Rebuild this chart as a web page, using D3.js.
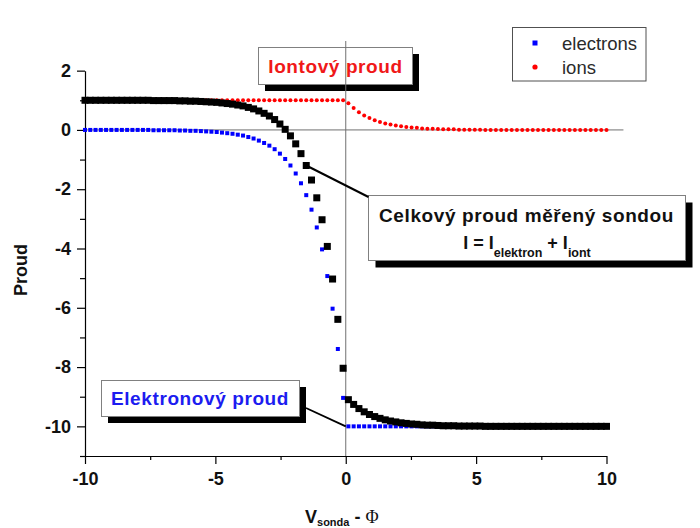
<!DOCTYPE html>
<html>
<head>
<meta charset="utf-8">
<script src="https://cdn.jsdelivr.net/npm/d3@7"></script>
<style>
  html, body { margin: 0; padding: 0; background: #fff; }
  svg { display: block; font-family: "Liberation Sans", Arial, Helvetica, sans-serif; }
</style>
</head>
<body>
<svg id="chart" width="700" height="528"></svg>
<script>
// Probe voltage relative to plasma potential (V_sonda - Φ)
const probeV = [
  -10, -9.798, -9.596, -9.394, -9.192, -8.990, -8.788, -8.586, -8.384, -8.182,
  -7.980, -7.778, -7.576, -7.374, -7.172, -6.970, -6.768, -6.566, -6.364, -6.162,
  -5.960, -5.758, -5.556, -5.354, -5.152, -4.949, -4.747, -4.545, -4.343, -4.141,
  -3.939, -3.737, -3.535, -3.333, -3.131, -2.929, -2.727, -2.525, -2.323, -2.121,
  -1.919, -1.717, -1.515, -1.313, -1.111, -0.909, -0.707, -0.505, -0.303, -0.101,
  0.101, 0.303, 0.505, 0.707, 0.909, 1.111, 1.313, 1.515, 1.717, 1.919,
  2.121, 2.323, 2.525, 2.727, 2.929, 3.131, 3.333, 3.535, 3.737, 3.939,
  4.141, 4.343, 4.545, 4.747, 4.949, 5.152, 5.354, 5.556, 5.758, 5.960,
  6.162, 6.364, 6.566, 6.768, 6.970, 7.172, 7.374, 7.576, 7.778, 7.980,
  8.182, 8.384, 8.586, 8.788, 8.990, 9.192, 9.394, 9.596, 9.798, 10
];

// Electron current
const electronCurrent = [
  0, 0, 0, 0, 0, 0, 0, 0, 0, 0,
  0, 0, 0, -0.01, -0.01, -0.01, -0.01, -0.01, -0.02, -0.02,
  -0.03, -0.03, -0.04, -0.05, -0.06, -0.07, -0.09, -0.11, -0.13, -0.16,
  -0.19, -0.24, -0.29, -0.36, -0.44, -0.53, -0.65, -0.80, -0.98, -1.20,
  -1.47, -1.80, -2.20, -2.69, -3.29, -4.03, -4.93, -6.03, -7.39, -9.04,
  -10, -10, -10, -10, -10, -10, -10, -10, -10, -10,
  -10, -10, -10, -10, -10, -10, -10, -10, -10, -10,
  -10, -10, -10, -10, -10, -10, -10, -10, -10, -10,
  -10, -10, -10, -10, -10, -10, -10, -10, -10, -10,
  -10, -10, -10, -10, -10, -10, -10, -10, -10, -10
];

// Ion current
const ionCurrent = [
  1, 1, 1, 1, 1, 1, 1, 1, 1, 1,
  1, 1, 1, 1, 1, 1, 1, 1, 1, 1,
  1, 1, 1, 1, 1, 1, 1, 1, 1, 1,
  1, 1, 1, 1, 1, 1, 1, 1, 1, 1,
  1, 1, 1, 1, 1, 1, 1, 1, 1, 1,
  0.90, 0.74, 0.60, 0.49, 0.40, 0.33, 0.27, 0.22, 0.18, 0.15,
  0.12, 0.10, 0.08, 0.07, 0.05, 0.04, 0.04, 0.03, 0.02, 0.02,
  0.02, 0.01, 0.01, 0.01, 0.01, 0.01, 0, 0, 0, 0,
  0, 0, 0, 0, 0, 0, 0, 0, 0, 0,
  0, 0, 0, 0, 0, 0, 0, 0, 0, 0
];

// Total probe current I = I_elektron + I_iont
const totalCurrent = [
  1, 1, 1, 1, 1, 1, 1, 1, 1, 1,
  1, 1, 1, 0.99, 0.99, 0.99, 0.99, 0.99, 0.98, 0.98,
  0.97, 0.97, 0.96, 0.95, 0.94, 0.93, 0.91, 0.89, 0.87, 0.84,
  0.81, 0.76, 0.71, 0.64, 0.56, 0.47, 0.35, 0.20, 0.02, -0.20,
  -0.47, -0.80, -1.20, -1.69, -2.29, -3.03, -3.93, -5.03, -6.39, -8.04,
  -9.10, -9.26, -9.40, -9.51, -9.60, -9.67, -9.73, -9.78, -9.82, -9.85,
  -9.88, -9.90, -9.92, -9.93, -9.95, -9.96, -9.96, -9.97, -9.98, -9.98,
  -9.98, -9.99, -9.99, -9.99, -9.99, -9.99, -10, -10, -10, -10,
  -10, -10, -10, -10, -10, -10, -10, -10, -10, -10,
  -10, -10, -10, -10, -10, -10, -10, -10, -10, -10
];

const xTicksMajor = [-10, -5, 0, 5, 10];
const xTicksMinor = [-7.5, -2.5, 2.5, 7.5];
const yTicksMajor = [-10, -8, -6, -4, -2, 0, 2];
const yTicksMinor = [-11, -9, -7, -5, -3, -1, 1];
const legendLabels = ["electrons", "ions"];

const svg = d3.select("#chart");
const x = d3.scaleLinear().domain([-10, 10]).range([85, 606.5]);
const y = d3.scaleLinear().domain([-11, 3]).range([456, 41]);

const pts = probeV.map((v, i) => ({ v, e: electronCurrent[i], ion: ionCurrent[i], tot: totalCurrent[i] }));

// ---- callout boxes (drop shadow + framed white panel) ----
function callout(x0, y0, w, h, off) {
  svg.append("rect").attr("x", x0 + off).attr("y", y0 + off).attr("width", w).attr("height", h).attr("fill", "#000");
  svg.append("rect").attr("x", x0).attr("y", y0).attr("width", w).attr("height", h)
    .attr("fill", "#fff").attr("stroke", "#808080").attr("stroke-width", 1);
}
callout(258.5, 47.5, 154, 37, 6.5);      // Iontový proud
callout(101.5, 380.5, 198, 36, 6.5);     // Elektronový proud
callout(368.5, 195.5, 317, 65, 7);       // Celkový proud

// ---- zero reference lines ----
svg.append("line")
  .attr("x1", x(0)).attr("x2", x(0)).attr("y1", y(3)).attr("y2", y(-11))
  .attr("stroke", "#707070").attr("stroke-width", 1);
svg.append("line")
  .attr("x1", x(-10)).attr("x2", x(10.65)).attr("y1", y(0)).attr("y2", y(0))
  .attr("stroke", "#707070").attr("stroke-width", 1);

// ---- axes ----
const axisFont = g => g.attr("font-family", "'Liberation Sans', Arial, sans-serif")
  .attr("font-size", 18).attr("font-weight", "bold");

svg.append("g").attr("transform", `translate(0,${y(-11)})`)
  .call(d3.axisBottom(x).tickValues(xTicksMajor).tickSize(8).tickSizeOuter(0).tickPadding(8).tickFormat(d => String(d)))
  .call(axisFont);
svg.append("g").attr("transform", `translate(0,${y(-11)})`)
  .call(d3.axisBottom(x).tickValues(xTicksMinor).tickSize(4).tickSizeOuter(0).tickFormat(""))
  .call(g => g.select(".domain").remove());

const yAxisScale = y.copy().domain([-11, 2]).range([y(-11), y(2)]);
svg.append("g").attr("transform", `translate(${x(-10)},0)`)
  .call(d3.axisLeft(yAxisScale).tickValues(yTicksMajor).tickSize(8).tickSizeOuter(0).tickPadding(6).tickFormat(d => String(d)))
  .call(axisFont);
svg.append("g").attr("transform", `translate(${x(-10)},0)`)
  .call(d3.axisLeft(yAxisScale).tickValues(yTicksMinor).tickSize(5).tickSizeOuter(0).tickFormat(""))
  .call(g => g.select(".domain").remove());

svg.selectAll(".domain, .tick line").attr("stroke", "#000").attr("stroke-width", 1.2);
svg.selectAll(".tick text").attr("fill", "#111");

// ---- data ----
svg.append("g").selectAll("rect").data(pts).join("rect")
  .attr("x", d => x(d.v) - 2).attr("y", d => y(d.e) - 2)
  .attr("width", 4).attr("height", 4).attr("fill", "#0000ff");

svg.append("g").selectAll("circle").data(pts).join("circle")
  .attr("cx", d => x(d.v)).attr("cy", d => y(d.ion)).attr("r", 2)
  .attr("fill", "#ff0000");

svg.append("g").selectAll("rect").data(pts).join("rect")
  .attr("x", d => x(d.v) - 3.5).attr("y", d => y(d.tot) - 3.5)
  .attr("width", 7).attr("height", 7).attr("fill", "#000");

// ---- callout pointers ----
const ptrTotal = pts[42];
svg.append("line")
  .attr("x1", x(ptrTotal.v)).attr("y1", y(ptrTotal.tot)).attr("x2", 368.5).attr("y2", 197)
  .attr("stroke", "#000").attr("stroke-width", 2);
svg.append("line")
  .attr("x1", 306).attr("y1", 408).attr("x2", x(0)).attr("y2", y(-10))
  .attr("stroke", "#000").attr("stroke-width", 1.8);

// ---- callout texts ----
const bold19 = sel => sel.attr("font-size", 19).attr("font-weight", "bold").style("letter-spacing", "0.6px");
svg.append("text").attr("x", 335.5).attr("y", 72.5).attr("text-anchor", "middle")
  .attr("fill", "#f01818").text("Iontový proud").call(bold19);
svg.append("text").attr("x", 200).attr("y", 405).attr("text-anchor", "middle")
  .attr("fill", "#1c1cf0").text("Elektronový proud").call(bold19);
svg.append("text").attr("x", 526.5).attr("y", 221.5).attr("text-anchor", "middle")
  .attr("fill", "#111").text("Celkový proud měřený sondou").call(bold19);

const eq = svg.append("text").attr("x", 527).attr("y", 248.5).attr("text-anchor", "middle")
  .attr("fill", "#111").attr("font-weight", "bold").attr("font-size", 18);
eq.append("tspan").text("I = I");
eq.append("tspan").attr("font-size", 12.5).attr("dy", 8.5).text("elektron");
eq.append("tspan").attr("dy", -8.5).text(" + I");
eq.append("tspan").attr("font-size", 12.5).attr("dy", 8.5).text("iont");

// ---- legend ----
svg.append("rect").attr("x", 512.5).attr("y", 27.5).attr("width", 133.5).attr("height", 53.5)
  .attr("fill", "#fff").attr("stroke", "#505050").attr("stroke-width", 1);
svg.append("rect").attr("x", 532.5).attr("y", 40.5).attr("width", 5).attr("height", 5).attr("fill", "#0000ff");
svg.append("circle").attr("cx", 535).attr("cy", 67).attr("r", 2.6).attr("fill", "#ff0000");
svg.selectAll(".legtext").data(legendLabels).join("text").attr("class", "legtext")
  .attr("x", 562).attr("y", (d, i) => 49.5 + i * 24)
  .attr("font-size", 18.5).attr("fill", "#2a2a2a").text(d => d);

// ---- axis titles ----
svg.append("text").attr("transform", "translate(27,270) rotate(-90)").attr("text-anchor", "middle")
  .attr("font-size", 18).attr("font-weight", "bold").attr("fill", "#111").text("Proud");

const xt = svg.append("text").attr("x", 305).attr("y", 522.5).attr("fill", "#111")
  .attr("font-size", 18).attr("font-weight", "bold");
xt.append("tspan").text("V");
xt.append("tspan").attr("font-size", 11).attr("dy", 3).text("sonda");
xt.append("tspan").attr("dy", -3).text(" - ");
xt.append("tspan").attr("font-weight", "normal")
  .attr("font-family", "'Liberation Serif', 'Times New Roman', serif").text("Φ");
</script>
</body>
</html>
